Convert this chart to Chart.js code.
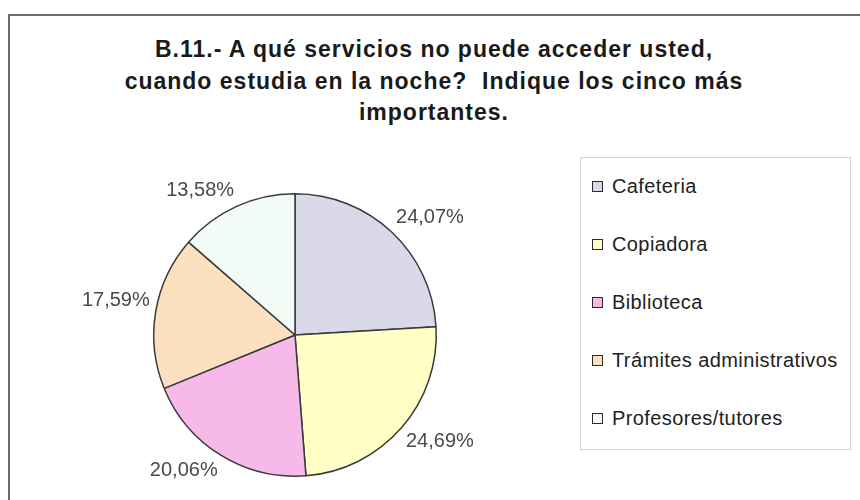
<!DOCTYPE html>
<html>
<head>
<meta charset="utf-8">
<script src="https://cdn.jsdelivr.net/npm/chart.js@4"></script>
<style>
  body { margin: 0; background: #fff; width: 860px; height: 500px; overflow: hidden; position: relative; font-family: "Liberation Sans", Arial, sans-serif; }
  #frame { position: absolute; left: 8px; top: 14px; width: 900px; height: 600px; border: 2px solid #6a6a6a; box-sizing: border-box; }
  #title { position: absolute; left: 8px; width: 852px; top: 34px; text-align: center; font-weight: bold; font-size: 23px; line-height: 31.5px; letter-spacing: 1px; color: #1a1a1a; white-space: pre; }
  #pieBox { position: absolute; left: 60px; top: 160px; width: 460px; height: 340px; }
  #legend { position: absolute; left: 580px; top: 157px; width: 271px; height: 293px; box-sizing: border-box; border: 1px solid #d4d4d4; padding: 13px 0 0 11px; }
  .item { height: 30px; margin-bottom: 28px; display: flex; align-items: center; font-size: 20px; letter-spacing: 0.4px; color: #222; white-space: nowrap; }
  .swatch { width: 9px; height: 9px; border: 1.5px solid #2a2a2a; margin-right: 9px; flex: none; }
</style>
</head>
<body>
<div id="frame"></div>
<div id="title"></div>
<div id="pieBox"><canvas id="chart"></canvas></div>
<div id="legend"></div>
<script>
//Chart data
const titleLines = ['B.11.- A qué servicios no puede acceder usted,', 'cuando estudia en la noche?  Indique los cinco más', 'importantes.']
const services = ['Cafeteria', 'Copiadora', 'Biblioteca', 'Trámites administrativos', 'Profesores/tutores']
const percents = [24.07, 24.69, 20.06, 17.59, 13.58]
const sliceColors = ['#d9d9ea', '#ffffc6', '#f7b8ea', '#fde0c0', '#f3fbf7']

document.getElementById('title').textContent = titleLines.join('\n')

// legend built from the same arrays
const legendDiv = document.getElementById('legend')
services.forEach((name, i) => {
    const row = document.createElement('div')
    row.className = 'item'
    const sw = document.createElement('span')
    sw.className = 'swatch'
    sw.style.background = sliceColors[i]
    row.append(sw)
    row.append(document.createTextNode(name))
    legendDiv.append(row)
})

// labels outside the slices, placed next to the middle of each arc
const outsideLabels = {
    id: 'outsideLabels',
    afterDatasetsDraw(chart) {
        const ctx = chart.ctx
        const meta = chart.getDatasetMeta(0)
        ctx.save()
        ctx.font = '20px "Liberation Sans", Arial, sans-serif'
        ctx.fillStyle = '#4a4a4a'
        meta.data.forEach((arc, i) => {
            const p = arc.getProps(['x', 'y', 'startAngle', 'endAngle', 'outerRadius'], true)
            const mid = (p.startAngle + p.endAngle) / 2
            const dx = Math.cos(mid)
            const dy = Math.sin(mid)
            const ax = p.x + (p.outerRadius + 6) * dx
            const ay = p.y + (p.outerRadius + 6) * dy
            ctx.textAlign = dx >= 0 ? 'left' : 'right'
            ctx.textBaseline = dy >= 0 ? 'top' : 'bottom'
            const txt = chart.data.datasets[0].data[i].toFixed(2).replace('.', ',') + '%'
            ctx.fillText(txt, ax, ay)
        })
        ctx.restore()
    }
}

new Chart(document.getElementById('chart'), {
    type: 'pie',
    data: {
        labels: services,
        datasets: [{
            data: percents,
            backgroundColor: sliceColors,
            borderColor: '#3a3a3a',
            borderWidth: 1.5
        }]
    },
    options: {
        responsive: true,
        maintainAspectRatio: false,
        animation: false,
        layout: { padding: { left: 93, right: 83, top: 33, bottom: 23 } },
        plugins: {
            legend: { display: false },
            tooltip: { enabled: false }
        }
    },
    plugins: [outsideLabels]
})
</script>
</body>
</html>
